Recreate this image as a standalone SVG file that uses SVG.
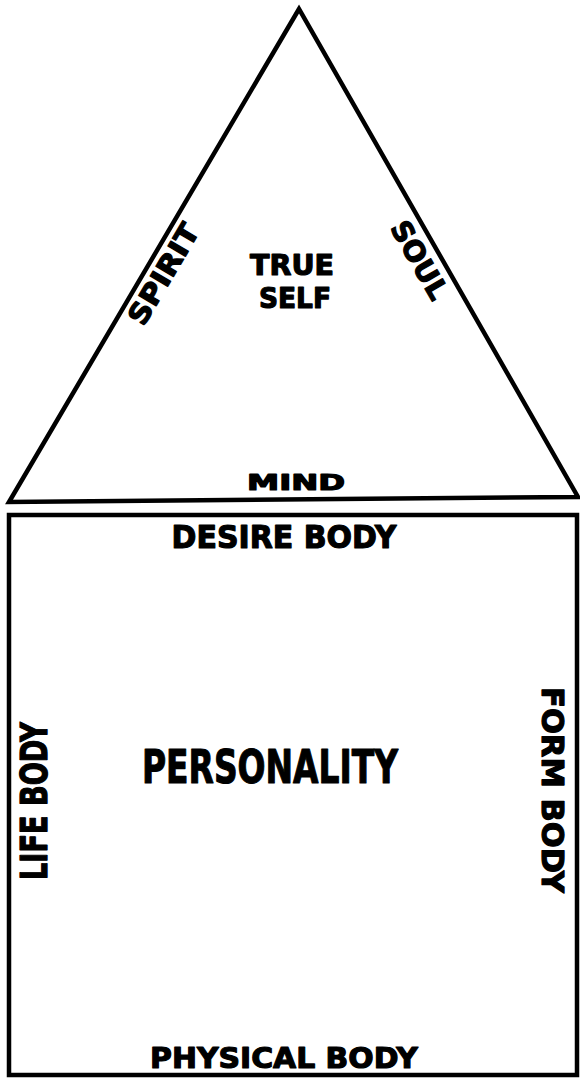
<svg xmlns="http://www.w3.org/2000/svg" width="580" height="1081" viewBox="0 0 580 1081">
<style>
.t{font-family:"DejaVu Sans","Liberation Sans",sans-serif;font-weight:bold;fill:#000;stroke:#000;stroke-width:1.2;stroke-linejoin:round;text-anchor:middle}
.s{fill:none;stroke:#000;stroke-width:4.5;stroke-linejoin:miter}
</style>
<rect width="580" height="1081" fill="#fff"/>
<g id="connectors"></g>
<g id="triangle">
<polygon class="s" points="299,9 9,502 578,497"/>
</g>
<g id="true-self">
<text class="t" x="292" y="275" font-size="28" stroke-width="1.6" textLength="84" lengthAdjust="spacingAndGlyphs">TRUE</text>
<text class="t" x="295" y="308" font-size="28" stroke-width="1.6" textLength="72" lengthAdjust="spacingAndGlyphs">SELF</text>
</g>
<g id="spirit">
<text class="t" font-size="28" transform="translate(172,279) rotate(-59.5)" textLength="112" lengthAdjust="spacingAndGlyphs">SPIRIT</text>
</g>
<g id="soul">
<text class="t" font-size="28" transform="translate(411,265) rotate(60)" textLength="86" lengthAdjust="spacingAndGlyphs">SOUL</text>
</g>
<g id="mind">
<text class="t" x="296" y="490" font-size="22" textLength="98" lengthAdjust="spacingAndGlyphs">MIND</text>
</g>
<g id="box">
<rect class="s" x="9" y="515" width="568" height="560"/>
</g>
<g id="desire-body">
<text class="t" x="284" y="548" font-size="32" textLength="225" lengthAdjust="spacingAndGlyphs">DESIRE BODY</text>
</g>
<g id="personality">
<text class="t" x="270" y="783" font-size="47" textLength="256" lengthAdjust="spacingAndGlyphs">PERSONALITY</text>
</g>
<g id="life-body">
<text class="t" font-size="37" transform="translate(47,801) rotate(-90)" textLength="158" lengthAdjust="spacingAndGlyphs">LIFE BODY</text>
</g>
<g id="form-body">
<text class="t" font-size="31" transform="translate(542,790) rotate(90)" textLength="206" lengthAdjust="spacingAndGlyphs">FORM BODY</text>
</g>
<g id="physical-body">
<text class="t" x="284" y="1068" font-size="29" textLength="268" lengthAdjust="spacingAndGlyphs">PHYSICAL BODY</text>
</g>
</svg>
